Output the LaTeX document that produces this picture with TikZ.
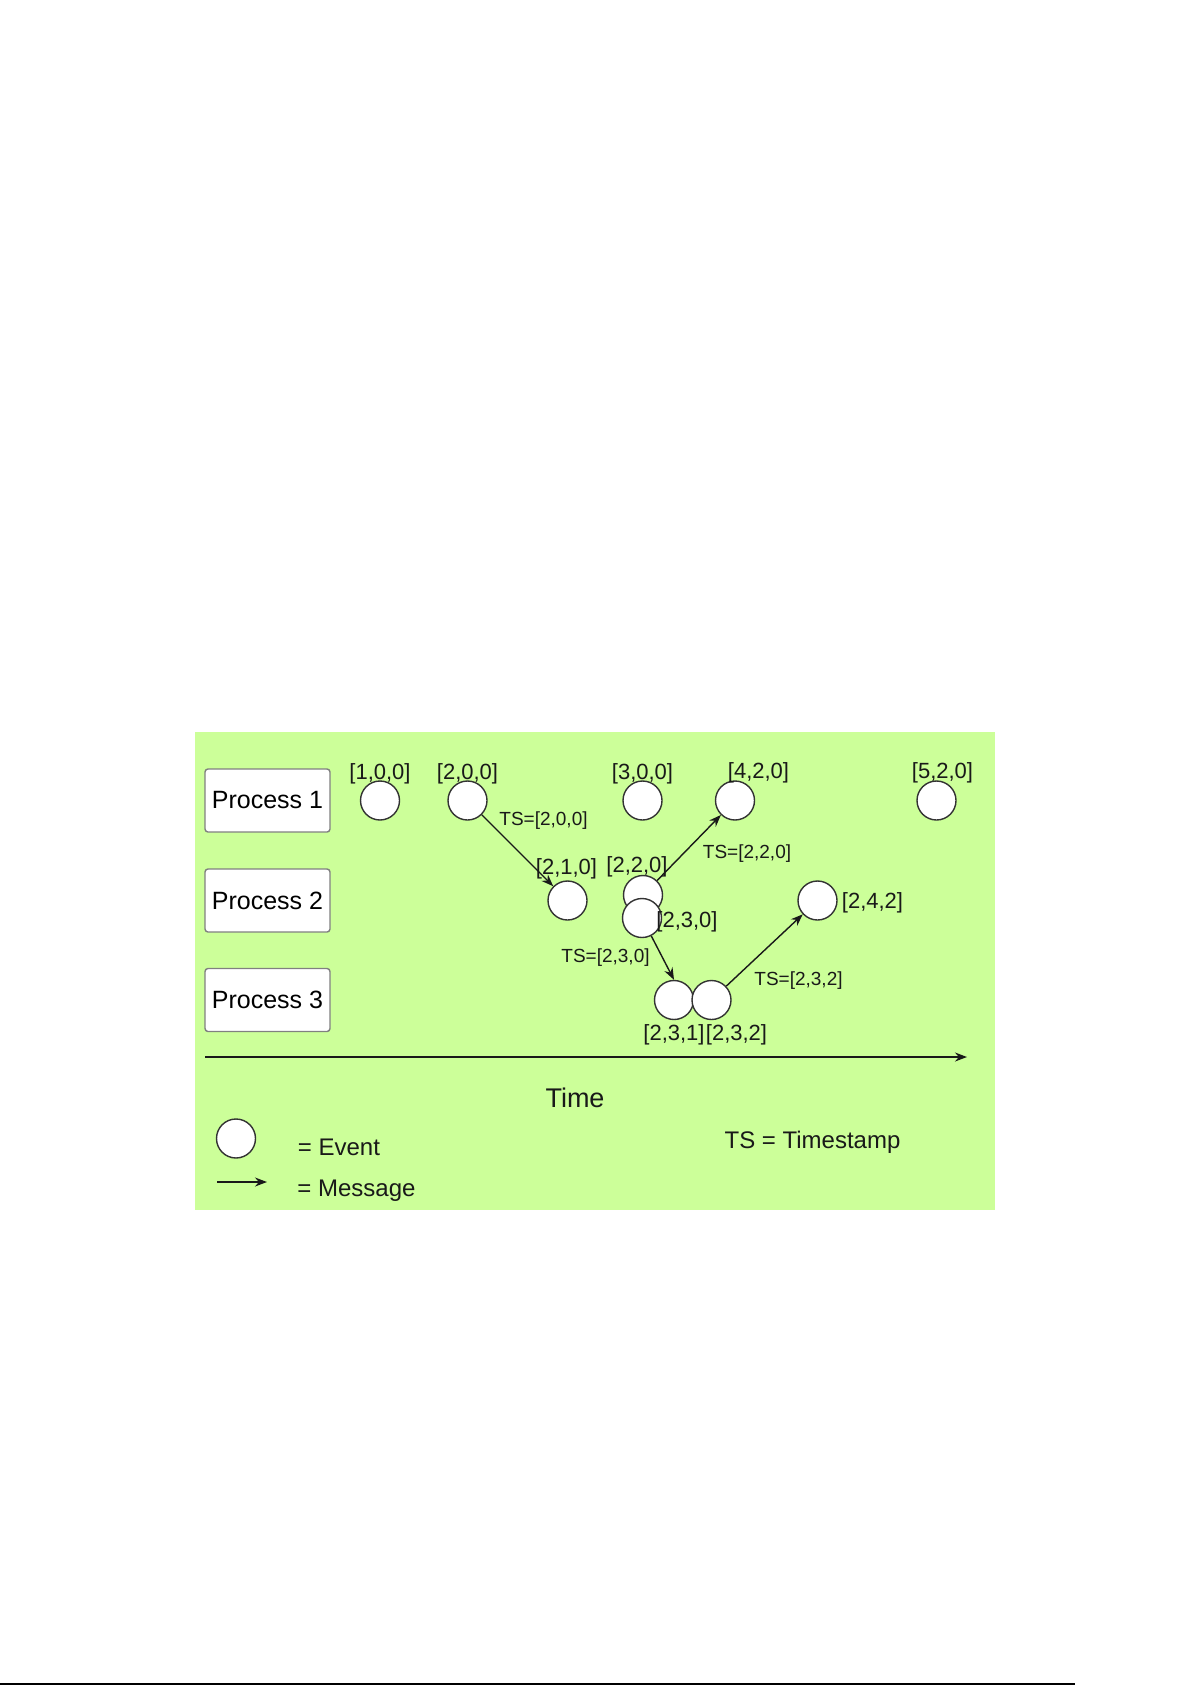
\documentclass[tikz,border=0pt]{standalone}
\usepackage{fontspec}
\setmainfont{Liberation Sans}
\usetikzlibrary{arrows.meta}
\definecolor{panelgreen}{HTML}{CCFF99}

\begin{document}
\begin{tikzpicture}[x=0.5pt, y=-0.5pt,
    event/.style={circle, draw=black!80, fill=white, line width=0.7pt, minimum size=19.5pt, inner sep=0pt},
    procbox/.style={draw=black!50, fill=white, line width=0.7pt, rounded corners=1.5pt,
      minimum width=62.5pt, minimum height=31.5pt, font=\fontsize{12.5}{14}\selectfont},
    stamp/.style={anchor=base, inner sep=0pt, text=black!90, font=\fontsize{11}{13}\selectfont},
    tslabel/.style={anchor=base, inner sep=0pt, text=black!90, font=\fontsize{9.5}{11}\selectfont},
    legend/.style={anchor=base, inner sep=0pt, text=black!90, font=\fontsize{12}{14}\selectfont},
    msg/.style={-{Stealth[length=6pt, width=4.5pt]}, line width=0.7pt, black!90}]
    \useasboundingbox (0,0) rectangle (1192,1685);
    % panel and page edge
    \fill[panelgreen] (195,732) rectangle (995,1210);
    \draw[line width=1pt] (0,1684) -- (1075,1684);
    % processes
    \node[procbox] (p1) at (267.5,800.5) {Process 1};
    \node[procbox] (p2) at (267.5,900.5) {Process 2};
    \node[procbox] (p3) at (267.5,1000) {Process 3};
    % events of process 1
    \node[event] (e100) at (380,800.5) {};
    \node[event] (e200) at (467.5,800.5) {};
    \node[event] (e300) at (642.5,800.5) {};
    \node[event] (e420) at (735,800.5) {};
    \node[event] (e520) at (936.5,800.5) {};
    % events of process 2
    \node[event] (e210) at (567.5,900.5) {};
    \node[event] (e220) at (643,895) {};
    \node[event] (e230) at (642,918) {};
    \node[event] (e242) at (817.5,900.5) {};
    % events of process 3
    \node[event] (e231) at (674,1000) {};
    \node[event] (e232) at (711.5,1000) {};
    % vector clocks
    \node[stamp] (l100) at (380,779) {[1,0,0]};
    \node[stamp] (l200) at (467.5,779) {[2,0,0]};
    \node[stamp] (l300) at (642.5,779) {[3,0,0]};
    \node[stamp] (l420) at (758.5,778) {[4,2,0]};
    \node[stamp] (l520) at (942.5,778) {[5,2,0]};
    \node[stamp] (l210) at (566.5,874) {[2,1,0]};
    \node[stamp] (l220) at (637,872) {[2,2,0]};
    \node[stamp] (l230) at (687,927) {[2,3,0]};
    \node[stamp] (l242) at (872.5,908) {[2,4,2]};
    \node[stamp] (l231) at (674,1040) {[2,3,1]};
    \node[stamp] (l232) at (736.5,1040) {[2,3,2]};
    % messages
    \draw[msg] (e200) -- (e210);
    \draw[msg] (e220) -- (e420);
    \draw[msg] (e230) -- (e231.north);
    \draw[msg] (e232) -- (e242);
    \node[tslabel] (ts1) at (543.5,825) {TS=[2,0,0]};
    \node[tslabel] (ts2) at (747,858) {TS=[2,2,0]};
    \node[tslabel] (ts3) at (605.5,962) {TS=[2,3,0]};
    \node[tslabel] (ts4) at (798.5,985) {TS=[2,3,2]};
    % time axis
    \coordinate (t0) at (205,1057);
    \coordinate (t1) at (967,1057);
    \draw[msg] (t0) -- (t1);
    \node[legend, font=\fontsize{13.5}{16}\selectfont] (time) at (575,1107) {Time};
    % legend
    \node[event] (lgev) at (236,1138.5) {};
    \node[legend] (lgevtext) at (339,1155) {= Event};
    \coordinate (lgm0) at (217,1182);
    \coordinate (lgm1) at (267,1182);
    \draw[msg] (lgm0) -- (lgm1);
    \node[legend] (lgmsg) at (356.5,1196) {= Message};
    \node[legend] (tsdef) at (812.5,1148) {TS = Timestamp};
\end{tikzpicture}
\end{document}
